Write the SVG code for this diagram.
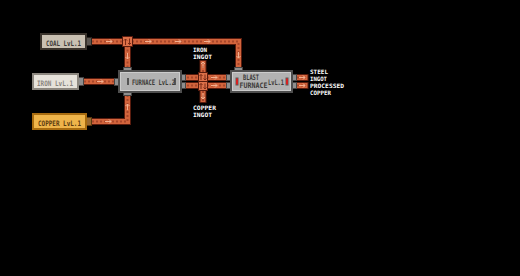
<svg xmlns="http://www.w3.org/2000/svg" width="520" height="276" viewBox="0 0 520 276">
  <defs>
    <style>
      .pipeO { fill: none; stroke: #5a1c0e; stroke-width: 7; stroke-linejoin: miter; }
      .pipeI { fill: none; stroke: #d2643c; stroke-width: 5; stroke-linejoin: miter; }
      .pipeD { fill: none; stroke: #a8462a; stroke-width: 2; stroke-dasharray: 2 2; }
      .arr { fill: none; stroke: #f2b090; stroke-width: 1; }
      .jn { fill: #dc7048; stroke: #5a1c0e; stroke-width: 1; }
      .jsym { fill: none; stroke: #7a2a16; stroke-width: 1; }
      .port { fill: #8e8e8e; stroke: #454545; stroke-width: 1; }
      .portd { fill: #5a5550; stroke: #2a2520; stroke-width: 1; }
      .mach { fill: #b2b2b2; stroke: #4e4e4e; stroke-width: 2; }
      .machIn { fill: none; stroke: #cccccc; stroke-width: 1; }
      .mt { font-family: "DejaVu Sans Mono", "Liberation Mono", monospace; font-weight: bold; font-size: 7.5px; fill: #3c3a38; }
      .lbl { font-family: "DejaVu Sans Mono", "Liberation Mono", monospace; font-weight: bold; font-size: 6px; fill: #ffffff; }
    </style>
  </defs>
  <rect width="520" height="276" fill="#000000"/>

  <g id="connectors">
    <!-- pipe bodies: outline, fill, then dotted core -->
    <g>
      <path class="pipeO" d="M89 41.5 H238.5 V69"/>
      <path class="pipeO" d="M127.5 41.5 V68"/>
      <path class="pipeO" d="M81 81.5 H116"/>
      <path class="pipeO" d="M89 121.5 H127.5 V94"/>
      <path class="pipeO" d="M184 77.5 H230"/>
      <path class="pipeO" d="M184 85.5 H230"/>
      <path class="pipeO" d="M203 60 V77"/>
      <path class="pipeO" d="M203 86 V103"/>
      <path class="pipeO" d="M295 77.5 H308.5"/>
      <path class="pipeO" d="M295 85.5 H308.5"/>

      <path class="pipeI" d="M89 41.5 H238.5 V69"/>
      <path class="pipeI" d="M127.5 41.5 V68"/>
      <path class="pipeI" d="M81 81.5 H116"/>
      <path class="pipeI" d="M89 121.5 H127.5 V94"/>
      <path class="pipeI" d="M184 77.5 H230"/>
      <path class="pipeI" d="M184 85.5 H230"/>
      <path class="pipeI" d="M203 61 V77"/>
      <path class="pipeI" d="M203 86 V102"/>
      <path class="pipeI" d="M295 77.5 H307.5"/>
      <path class="pipeI" d="M295 85.5 H307.5"/>

      <path class="pipeD" d="M92 41.5 H238.5 V68"/>
      <path class="pipeD" d="M127.5 41.5 V67"/>
      <path class="pipeD" d="M84 81.5 H114"/>
      <path class="pipeD" d="M92 121.5 H127.5 V95"/>
      <path class="pipeD" d="M187 77.5 H228"/>
      <path class="pipeD" d="M187 85.5 H228"/>
      <path class="pipeD" d="M203 62 V76"/>
      <path class="pipeD" d="M203 87 V101"/>
      <path class="pipeD" d="M297 77.5 H306"/>
      <path class="pipeD" d="M297 85.5 H306"/>
    </g>

    <!-- flow arrows -->
    <g class="arr">
      <path d="M106 41.5 H112 M110 39.5 L112 41.5 L110 43.5"/>
      <path d="M145 41.5 H151 M149 39.5 L151 41.5 L149 43.5"/>
      <path d="M175 41.5 H181 M179 39.5 L181 41.5 L179 43.5"/>
      <path d="M204 41.5 H210 M208 39.5 L210 41.5 L208 43.5"/>
      <path d="M127.5 53 V59 M125.5 57 L127.5 59 L129.5 57"/>
      <path d="M238.5 52 V58 M236.5 56 L238.5 58 L240.5 56"/>
      <path d="M97 81.5 H103 M101 79.5 L103 81.5 L101 83.5"/>
      <path d="M105 121.5 H111 M109 119.5 L111 121.5 L109 123.5"/>
      <path d="M127.5 110 V104 M125.5 106 L127.5 104 L129.5 106"/>
      <path d="M211 77.5 H217 M215 75.5 L217 77.5 L215 79.5"/>
      <path d="M211 85.5 H217 M215 83.5 L217 85.5 L215 87.5"/>
      <path d="M203 68 V62 M201 64 L203 62 L205 64"/>
      <path d="M203 93 V99 M201 97 L203 99 L205 97"/>
      <path d="M299 77.5 H305 M303 75.5 L305 77.5 L303 79.5"/>
      <path d="M299 85.5 H305 M303 83.5 L305 85.5 L303 87.5"/>
    </g>

    <!-- splitter junctions -->
    <g>
      <rect class="jn" x="122.5" y="36.5" width="10" height="10"/>
      <path class="jsym" d="M125.5 45 V39 M124 40.5 L125.5 39 L127 40.5 M129.5 38.5 V44.5 M128 43 L129.5 44.5 L131 43"/>
      <rect class="jn" x="198.5" y="72.5" width="9" height="9"/>
      <path class="jsym" d="M201 80 V74.5 M199.5 76 L201 74.5 L202.5 76 M205 74.5 V80 M203.5 78.5 L205 80 L206.5 78.5"/>
      <rect class="jn" x="198.5" y="81.5" width="9" height="9"/>
      <path class="jsym" d="M201 89 V83.5 M199.5 85 L201 83.5 L202.5 85 M205 83.5 V89 M203.5 87.5 L205 89 L206.5 87.5"/>
    </g>
  </g>

  <g id="coal">
    <rect class="portd" x="86.5" y="37.5" width="5" height="8"/>
    <rect x="41" y="34" width="45" height="15" fill="#c9c0b2" stroke="#3b342d" stroke-width="2"/>
    <text class="mt" x="46" y="45.5" textLength="35" lengthAdjust="spacingAndGlyphs">COAL LvL.1</text>
  </g>

  <g id="iron">
    <rect class="port" x="78.5" y="77.5" width="5" height="8"/>
    <rect x="33" y="74" width="45" height="15" fill="#e6e2da" stroke="#8c877f" stroke-width="2"/>
    <text class="mt" x="37" y="85.5" textLength="36" lengthAdjust="spacingAndGlyphs" style="fill:#8a857e">IRON LvL.1</text>
  </g>

  <g id="copper">
    <rect x="86.5" y="117.5" width="5" height="8" fill="#9a6a30" stroke="#5a3a10" stroke-width="1"/>
    <rect x="33" y="114" width="53" height="15" fill="#eeb44a" stroke="#a86c10" stroke-width="2"/>
    <text class="mt" x="38" y="125.5" textLength="43" lengthAdjust="spacingAndGlyphs" style="fill:#5a3a10">COPPER LvL.1</text>
  </g>

  <g id="furnace">
    <rect class="port" x="123.5" y="67.5" width="8" height="4"/>
    <rect class="port" x="123.5" y="91.5" width="8" height="4"/>
    <rect class="port" x="114.5" y="78.5" width="4" height="7"/>
    <rect class="port" x="180.5" y="74.5" width="5" height="6"/>
    <rect class="port" x="180.5" y="82.5" width="5" height="6"/>
    <rect class="mach" x="119" y="71" width="62" height="21"/>
    <rect class="machIn" x="120.5" y="72.5" width="59" height="18"/>
    <rect x="127" y="78" width="2" height="7" fill="#555555"/>
    <rect x="174" y="78" width="2" height="7" fill="#555555"/>
    <text class="mt" x="132" y="85" textLength="43" lengthAdjust="spacingAndGlyphs">FURNACE LvL.2</text>
  </g>

  <g id="blast-furnace">
    <rect class="port" x="234.5" y="67.5" width="8" height="4"/>
    <rect class="port" x="226.5" y="74.5" width="5" height="6"/>
    <rect class="port" x="226.5" y="82.5" width="5" height="6"/>
    <rect class="port" x="291.5" y="74.5" width="5" height="6"/>
    <rect class="port" x="291.5" y="82.5" width="5" height="6"/>
    <rect class="mach" x="231" y="71" width="61" height="21"/>
    <rect class="machIn" x="232.5" y="72.5" width="58" height="18"/>
    <rect x="235.5" y="77.5" width="3" height="8" fill="#5a5a5a"/>
    <rect x="236" y="78.5" width="2" height="6" fill="#d82020"/>
    <rect x="285.5" y="77.5" width="3" height="8" fill="#5a5a5a"/>
    <rect x="286" y="78.5" width="2" height="6" fill="#d82020"/>
    <text class="mt" x="243" y="79.5" textLength="16" lengthAdjust="spacingAndGlyphs">BLAST</text>
    <text class="mt" x="239.5" y="88" textLength="28" lengthAdjust="spacingAndGlyphs">FURNACE</text>
    <text class="mt" x="268" y="84.5" textLength="16" lengthAdjust="spacingAndGlyphs">LvL.1</text>
  </g>

  <g id="labels">
    <text class="lbl" x="193" y="51.5" textLength="14" lengthAdjust="spacingAndGlyphs">IRON</text>
    <text class="lbl" x="193" y="58.5" textLength="19" lengthAdjust="spacingAndGlyphs">INGOT</text>
    <text class="lbl" x="193" y="110" textLength="23" lengthAdjust="spacingAndGlyphs">COPPER</text>
    <text class="lbl" x="193" y="117" textLength="19" lengthAdjust="spacingAndGlyphs">INGOT</text>
    <text class="lbl" x="310" y="73.5" textLength="18" lengthAdjust="spacingAndGlyphs">STEEL</text>
    <text class="lbl" x="310" y="80.5" textLength="17" lengthAdjust="spacingAndGlyphs">INGOT</text>
    <text class="lbl" x="310" y="87.5" textLength="34" lengthAdjust="spacingAndGlyphs">PROCESSED</text>
    <text class="lbl" x="310" y="94.5" textLength="21" lengthAdjust="spacingAndGlyphs">COPPER</text>
  </g>
</svg>
